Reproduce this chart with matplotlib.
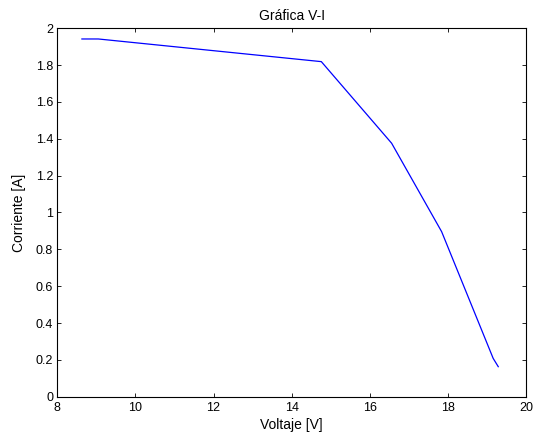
import matplotlib
matplotlib.use("Agg")
import matplotlib.pyplot as plt

voltaje = [8.63, 9.05, 14.76, 16.56, 17.84, 19.16, 19.29]
corriente = [1.942, 1.942, 1.819, 1.376, 0.896, 0.208, 0.163]
xticks = [8, 10, 12, 14, 16, 18, 20]
yticks = [0, 0.2, 0.4, 0.6, 0.8, 1, 1.2, 1.4, 1.6, 1.8, 2]

plt.rcParams['font.family'] = ['Liberation Sans', 'DejaVu Sans']
plt.rcParams['font.size'] = 9

fig = plt.figure(figsize=(5.34, 4.4), dpi=100)
ax = fig.add_axes([0.1073, 0.0984, 0.8777, 0.8373])
ax.plot(voltaje, corriente, color='#0000ff', linewidth=0.9)
ax.set_xlim(8, 20)
ax.set_ylim(0, 2)
ax.set_xticks(xticks)
ax.set_xticklabels([str(t) for t in xticks])
ax.set_yticks(yticks)
ax.set_yticklabels(['0', '0.2', '0.4', '0.6', '0.8', '1', '1.2', '1.4', '1.6', '1.8', '2'])
ax.tick_params(direction='in', top=True, right=True, length=3, width=0.6, labelsize=9)
ax.tick_params(axis='x', pad=4)
ax.tick_params(axis='y', pad=3)
for s in ax.spines.values():
    s.set_linewidth(0.8)
ax.set_xlabel('Voltaje [V]', fontsize=10, labelpad=3)
ax.set_ylabel('Corriente [A]', fontsize=10, labelpad=7)
ax.set_title('Gráfica V-I', fontsize=10, pad=6)
fig.savefig('out.png', dpi=100)
